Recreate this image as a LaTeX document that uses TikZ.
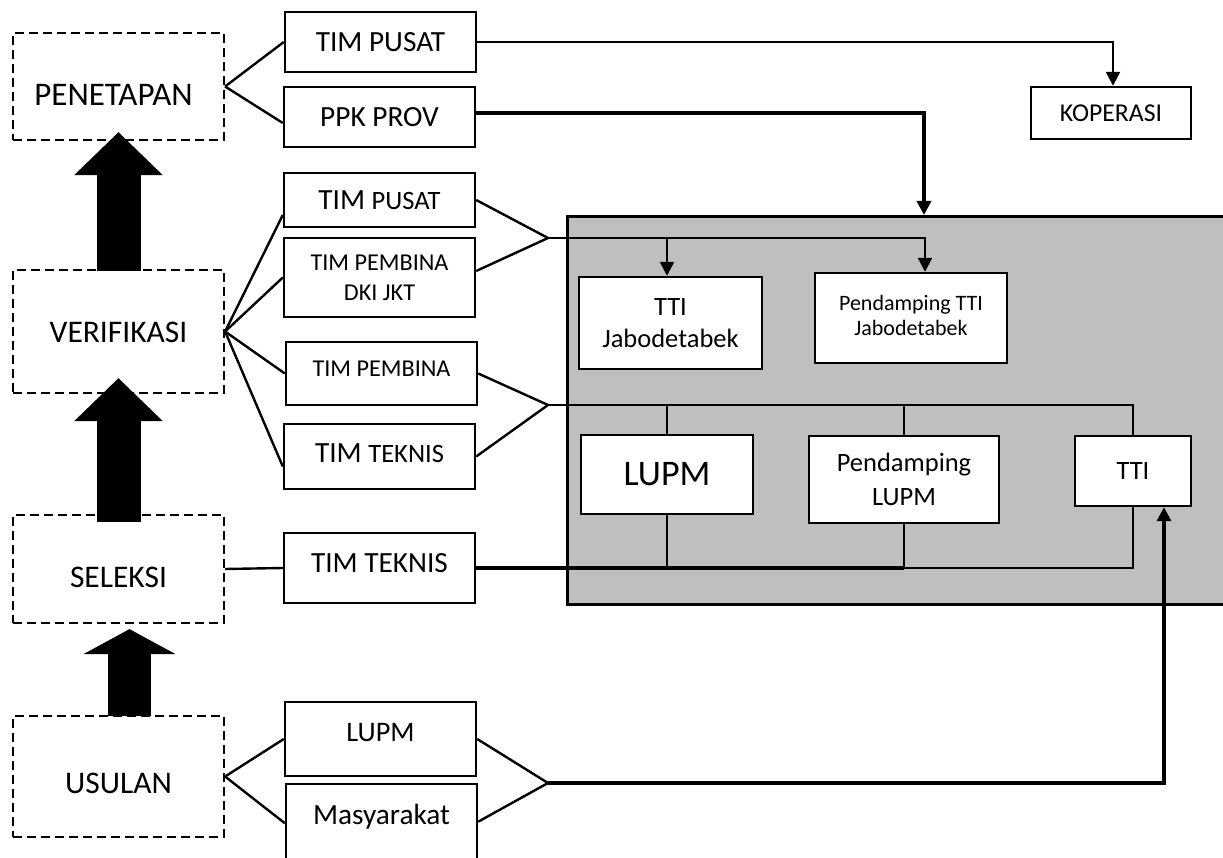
\documentclass[tikz,border=0pt]{standalone}
\usepackage{fontspec}
\setmainfont{Carlito}
\usetikzlibrary{arrows.meta}
\definecolor{panelgray}{RGB}{191,191,191}
\begin{document}
\begin{tikzpicture}[x=1pt,y=-1pt,
  dbox/.style={draw, line width=2.2pt, dash pattern=on 9pt off 5pt, minimum width=211pt, inner sep=0pt, font=\fontsize{31.5}{36}\selectfont},
  sbox/.style={draw, line width=2.4pt, fill=white, minimum width=191pt, inner sep=0pt, align=center, font=\fontsize{29.3}{34}\selectfont},
  ibox/.style={draw, line width=2.4pt, fill=white, inner sep=0pt, align=center},
  link/.style={line width=2.4pt},
  boldlink/.style={line width=3.8pt},
  arr/.style={-{Triangle[length=14pt,width=14pt]}},
  bigarrow/.style={line width=44pt, -{Triangle[length=43pt,width=86pt]}},
]
\useasboundingbox (0,0) rectangle (1223,858);

% grey panel
\node[draw, fill=panelgray, line width=2.8pt, minimum width=680pt, minimum height=388pt, anchor=north west, inner sep=0pt] (panel) at (566,215) {};

% stage boxes
\node[dbox, minimum height=107pt, text height=39pt, text depth=0pt, font=\fontsize{33}{36}\selectfont] (pen) at (118.5,86.5) {PENETAPAN\hspace*{10pt}};
\node[dbox, minimum height=123pt, text height=23pt, text depth=0pt] (ver) at (118.5,331.5) {VERIFIKASI};
\node[dbox, minimum height=108pt, text height=36pt, text depth=0pt] (sel) at (118.5,569) {SELEKSI};
\node[dbox, minimum height=121pt, text height=33pt, text depth=0pt] (usu) at (118.5,776.5) {USULAN};

% middle column
\node[sbox, minimum height=60pt] (tp1) at (380.5,42) {TIM PUSAT};
\node[sbox, minimum height=60pt] (ppk) at (379.5,117) {PPK PROV};
\node[sbox, minimum height=54pt] (tp2) at (379.5,200) {TIM {\fontsize{26.5}{30}\selectfont PUSAT}};
\node[sbox, minimum height=79pt, font=\fontsize{24.2}{30}\selectfont] (dki) at (379.5,277.5) {TIM PEMBINA\\DKI JKT};
\node[sbox, minimum height=63pt, font=\fontsize{24.2}{28}\selectfont, text height=15.3pt, text depth=10pt] (pemb) at (381.5,373.5) {TIM PEMBINA};
\node[sbox, minimum height=65pt, text height=18.5pt, text depth=7pt] (tek1) at (379.5,456.5) {TIM {\fontsize{26.5}{30}\selectfont TEKNIS}};
\node[sbox, minimum height=70pt, text height=18.5pt, text depth=9pt] (tek2) at (379.5,568) {TIM TEKNIS};
\node[sbox, minimum height=74pt, font=\fontsize{28.3}{32}\selectfont, text height=17.8pt, text depth=12pt] (lupmA) at (380.5,739) {LUPM};
\node[sbox, anchor=north, minimum height=87pt, text height=19pt, text depth=26pt] (masy) at (381.5,783) {Masyarakat};

% right side
\node[ibox, minimum width=160pt, minimum height=52pt, font=\fontsize{25.7}{30}\selectfont] (kop) at (1111,113) {KOPERASI};
\node[ibox, minimum width=183pt, minimum height=92pt, font=\fontsize{26.5}{32.7}\selectfont] (ttij) at (670.5,323) {TTI\\Jabodetabek};
\node[ibox, minimum width=192pt, minimum height=90pt, font=\fontsize{22}{25.7}\selectfont] (pttij) at (911,318) {\raisebox{6pt}{\begin{tabular}{@{}c@{}}Pendamping TTI\\Jabodetabek\end{tabular}}};
\node[ibox, minimum width=172pt, minimum height=79pt, font=\fontsize{36}{40}\selectfont] (lupmB) at (667,474.5) {LUPM};
\node[ibox, minimum width=190pt, minimum height=87pt, font=\fontsize{26.5}{33.3}\selectfont] (plupm) at (904,479.5) {Pendamping\\LUPM};
\node[ibox, minimum width=116pt, minimum height=70pt, font=\fontsize{26.5}{30}\selectfont] (tti) at (1133,471) {TTI};

% junctions and guide coordinates
\coordinate (m1) at (548,238);
\coordinate (m2) at (548,405);
\coordinate (m3) at (548,783);
\coordinate (xk) at (1113,0);
\coordinate (xp) at (924,0);
\coordinate (xa) at (925,0);
\coordinate (xb) at (667,0);
\coordinate (xt) at (1164,0);

% left fans
\draw[link] (pen.east) -- (tp1.west);
\draw[link] (pen.east) -- ([yshift=-6pt]ppk.west);
\draw[link] (ver.east) -- ([yshift=-15pt]tp2.west);
\draw[link] (ver.east) -- (dki.west);
\draw[link] (ver.east) -- (pemb.west);
\draw[link] (ver.east) -- ([yshift=-10pt]tek1.west);
\draw[link] (sel.east) -- (tek2.west);
\draw[link] (usu.east) -- (lupmA.west);
\draw[link] (usu.east) -- ([yshift=4.5pt]masy.west);

% right fans
\draw[link] (tp2.east) -- (m1);
\draw[link] ([yshift=6.5pt]dki.east) -- (m1);
\draw[link, arr] (m1) -| (xa |- pttij.north);
\draw[link, arr] (xb |- m1) -- (xb |- ttij.north);

\draw[link] (pemb.east) -- (m2);
\draw[link] (tek1.east) -- (m2);
\draw[link] (m2) -| (tti.north);
\draw[link] (lupmB.north) -- (lupmB.north |- m2);
\draw[link] (plupm.north) -- (plupm.north |- m2);

\draw[boldlink] (tek2.east) -- (tek2.east -| plupm.south);
\draw[link] (tek2.east -| plupm.south) -| (tti.south);
\draw[link] (lupmB.south) -- (lupmB.south |- tek2.east);
\draw[link] (plupm.south) -- (plupm.south |- tek2.east);

\draw[link] (lupmA.east) -- (m3);
\draw[link] ([yshift=6pt]masy.east) -- (m3);
\draw[boldlink, arr] (m3) -| (xt |- tti.south);

\draw[link, arr] (tp1.east) -| (xk |- kop.north);
\draw[boldlink, arr] ([yshift=4pt]ppk.east) -| (xp |- panel.north);

% big stage arrows
\draw[bigarrow] ([yshift=-2pt]ver.north) -- ([yshift=9pt]pen.south);
\draw[bigarrow] ([yshift=-8pt]sel.north) -- ([yshift=16pt]ver.south);
\draw[line width=43pt, -{Triangle[length=25pt,width=91pt]}] ([xshift=11pt,yshift=-1pt]usu.north) -- ([xshift=11pt,yshift=-5pt]sel.south);
\end{tikzpicture}
\end{document}
